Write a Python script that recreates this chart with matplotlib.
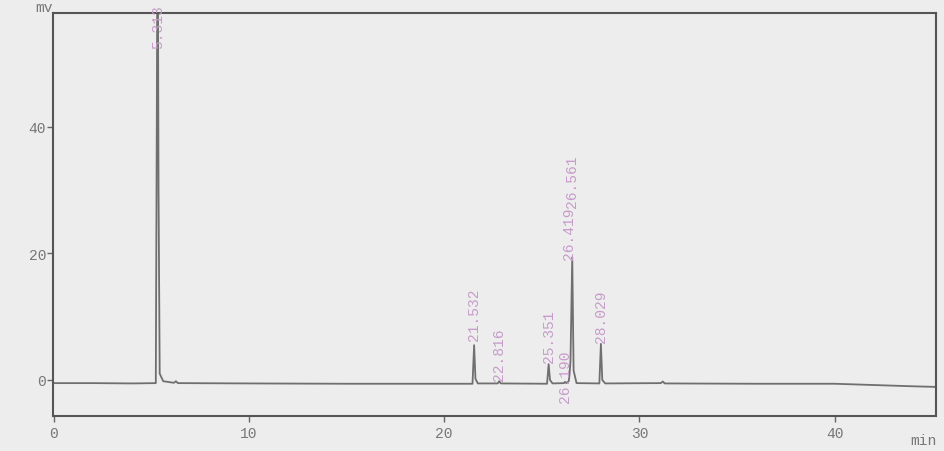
import matplotlib
matplotlib.use('Agg')
import matplotlib.pyplot as plt

# detector trace (time in min, signal in mV)
trace_min = [0.0, 2.0, 4.0, 5.22, 5.27, 5.313, 5.36, 5.42, 5.6, 6.15, 6.25, 6.35,
             10.0, 15.0, 20.0, 21.45, 21.532, 21.6, 21.72, 22.74, 22.816, 22.9,
             25.27, 25.351, 25.42, 25.55, 26.14, 26.19, 26.26, 26.38, 26.419,
             26.47, 26.561, 26.63, 26.78, 27.95, 28.029, 28.1, 28.25, 31.1,
             31.2, 31.3, 36.0, 40.0, 42.0, 44.0, 45.2]
trace_mv = [-0.5, -0.5, -0.55, -0.5, 40.0, 80.0, 30.0, 1.0, -0.2, -0.45, -0.2, -0.5,
            -0.55, -0.6, -0.6, -0.6, 5.5, 0.2, -0.55, -0.55, -0.2, -0.55,
            -0.6, 2.5, 0.0, -0.55, -0.5, -0.3, -0.5, -0.2, 0.8,
            3.0, 19.4, 1.5, -0.5, -0.55, 5.7, 0.0, -0.55, -0.5,
            -0.25, -0.55, -0.6, -0.6, -0.8, -1.0, -1.1]

# peak annotations
peak_rt = [5.313, 21.532, 22.816, 25.351, 26.190, 26.419, 26.561, 28.029]
peak_text = ['5.313', '21.532', '22.816', '25.351', '26.190', '26.419', '26.561', '28.029']
label_base = [52.5, 6.3, 0.0, 2.8, -3.5, 19.1, 27.3, 6.0]

x_ticks = [0, 10, 20, 30, 40]
y_ticks = [0, 20, 40]

bg = '#ededed'
ink = '#666666'
pink = '#c79ccb'

fig = plt.figure(figsize=(9.44, 4.52), dpi=100, facecolor=bg)
ax = fig.add_axes([0.0561, 0.0774, 0.9354, 0.8916], facecolor=bg)

ax.plot(trace_min, trace_mv, color='#6f6f6f', linewidth=1.3)

for rt, txt, yb in zip(peak_rt, peak_text, label_base):
    ax.text(rt, yb, txt, rotation=90, ha='center', va='bottom',
            fontsize=10.5, family='Liberation Mono', color=pink)

ax.set_xlim(-0.05, 45.2)
ax.set_ylim(-5.7, 58)
ax.set_xticks(x_ticks)
ax.set_yticks(y_ticks)
ax.tick_params(direction='out', length=4, width=1, color=ink, labelcolor='#777777',
               labelsize=10.5)
ax.tick_params(axis='y', pad=1)
for lab in ax.get_xticklabels() + ax.get_yticklabels():
    lab.set_family('Liberation Mono')
for s in ax.spines.values():
    s.set_color('#555555')
    s.set_linewidth(1.5)

fig.text(0.037, 0.983, 'mv', fontsize=10.5, family='Liberation Mono',
         color='#777777', ha='left', va='center')
fig.text(0.992, 0.025, 'min', fontsize=10.5, family='Liberation Mono',
         color='#777777', ha='right', va='center')

plt.savefig('out.png', dpi=100, facecolor=bg)
